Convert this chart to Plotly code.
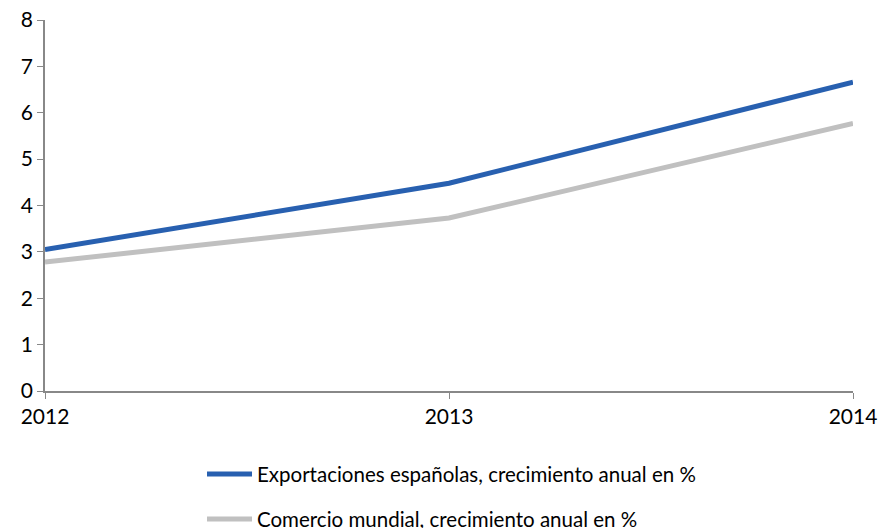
import plotly.graph_objects as go

# datos
anios = [2012, 2013, 2014]
exportaciones = [3.05, 4.48, 6.66]
comercio = [2.78, 3.73, 5.77]

nombres = [
    "Exportaciones españolas, crecimiento anual en %",
    "Comercio mundial, crecimiento anual en %",
]
colores = ["#2860B0", "#C0C0C0"]

fig = go.Figure()

for serie, nombre, color in zip([exportaciones, comercio], nombres, colores):
    fig.add_trace(go.Scatter(
        x=anios,
        y=serie,
        mode="lines",
        name=nombre,
        line=dict(color=color, width=5),
    ))

# leyenda dibujada a mano (debajo del gráfico)
filas_y = [-0.224, -0.345]
for nombre, color, fy in zip(nombres, colores, filas_y):
    fig.add_shape(
        type="line", xref="paper", yref="paper",
        x0=0.2005, x1=0.2562, y0=fy, y1=fy,
        line=dict(color=color, width=5),
    )
    fig.add_annotation(
        x=0.2605, y=fy, xref="paper", yref="paper",
        text=nombre, showarrow=False,
        xanchor="left", yanchor="middle",
        font=dict(size=20.5),
    )

fig.update_layout(
    width=878,
    height=528,
    plot_bgcolor="white",
    paper_bgcolor="white",
    font=dict(family="Lato, sans-serif", size=21, color="black"),
    margin=dict(l=45, r=25, t=20, b=137),
    showlegend=False,
)

fig.update_xaxes(
    range=[2012, 2014],
    tickvals=anios,
    ticktext=[str(a) for a in anios],
    showgrid=False,
    showline=True,
    linecolor="#888888",
    linewidth=1.5,
    ticks="outside",
    ticklen=6,
    tickcolor="#888888",
    zeroline=False,
    automargin=False,
)
fig.update_yaxes(
    range=[0, 8],
    dtick=1,
    showgrid=False,
    showline=True,
    linecolor="#888888",
    linewidth=1.5,
    ticks="outside",
    ticklen=6,
    tickcolor="#888888",
    zeroline=False,
    automargin=False,
)

# quitar el margen por defecto del <body> para que el gráfico empiece en (0, 0)
fig.write_html(
    "out.html",
    config={"displayModeBar": False},
    post_script="document.body.style.margin='0';document.body.style.overflow='hidden';",
)
